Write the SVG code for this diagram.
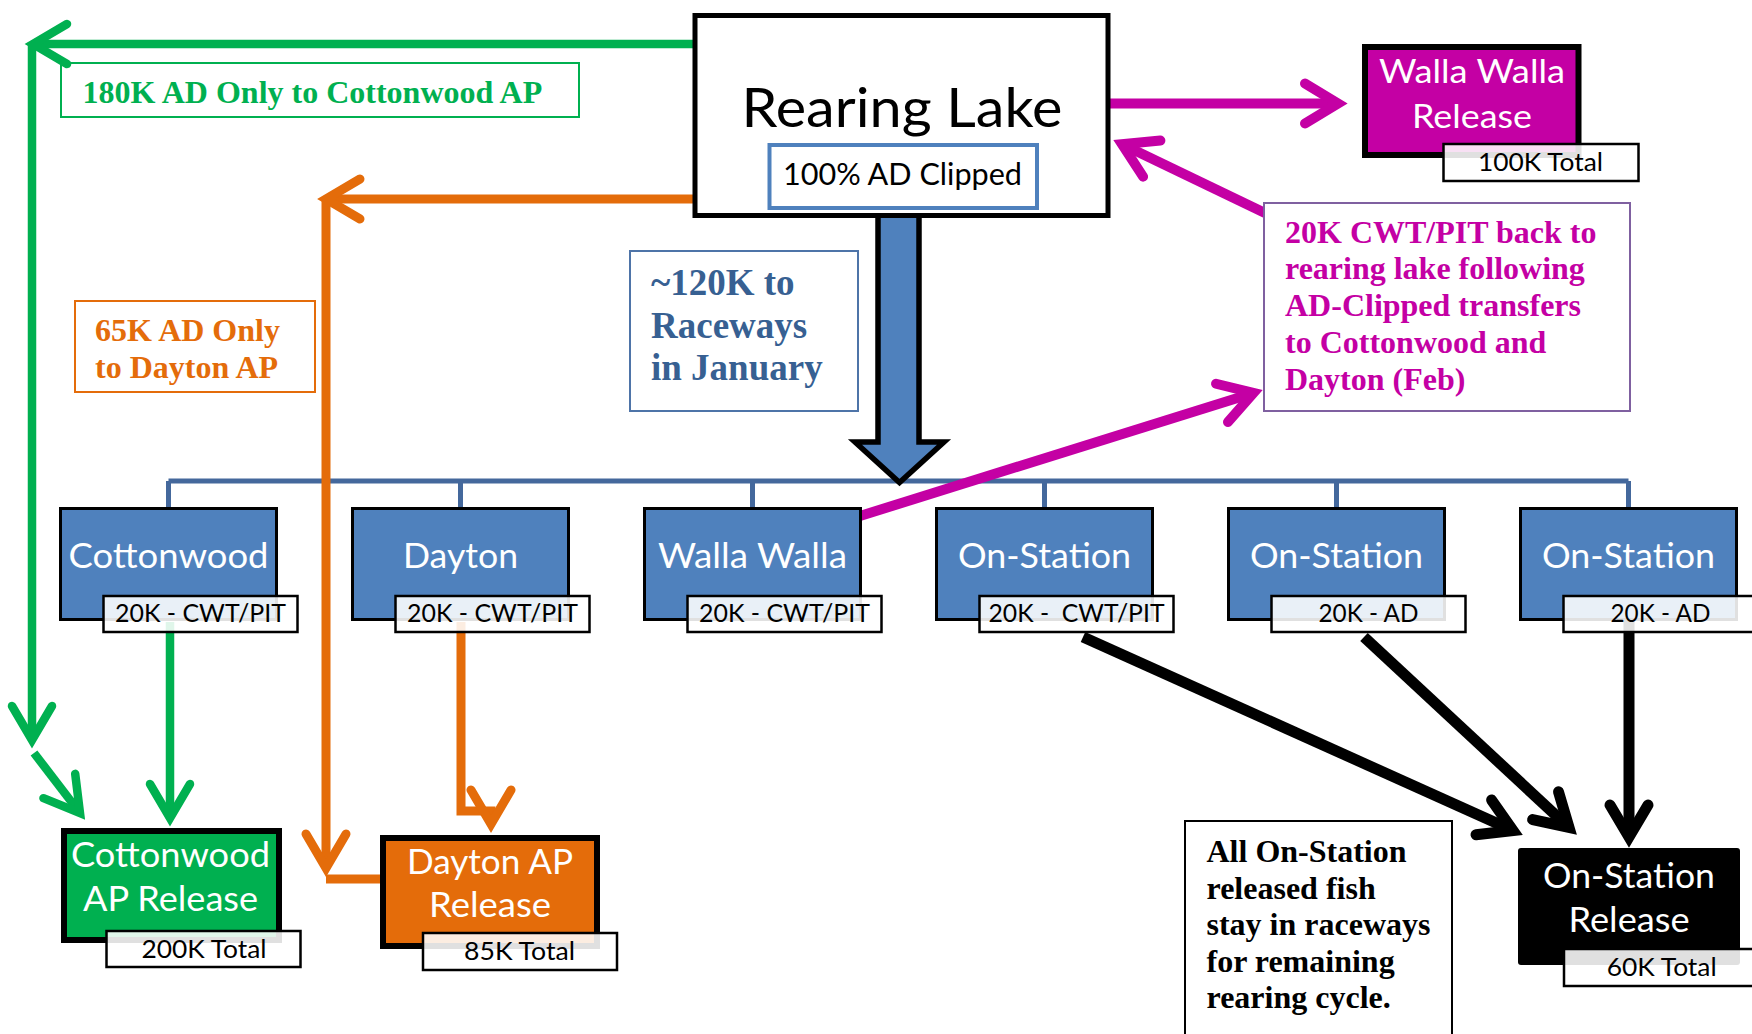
<svg xmlns="http://www.w3.org/2000/svg" width="1752" height="1034" viewBox="0 0 1752 1034">
<style>
.cal{font-family:Lato,"Open Sans","Liberation Sans",sans-serif;}
.ser{font-family:"Liberation Serif","Times New Roman",serif;font-weight:bold;font-size:32px;}
.wt{fill:#FFFFFF;}
.nm{font-size:35px;fill:#FFFFFF;text-anchor:middle;}
.lb{font-size:25px;fill:#000000;text-anchor:middle;}
.node{fill:#4F81BD;stroke:#000000;stroke-width:3;}
.lab{fill:#FFFFFF;fill-opacity:0.88;stroke:#000000;stroke-width:2.5;}
.bus{fill:none;stroke:#44689C;stroke-width:5;}
.cg{fill:none;stroke:#00B050;stroke-width:8.5;}
.co{fill:none;stroke:#E46C0A;stroke-width:9;}
.cm{fill:none;stroke:#C400A4;stroke-width:10;}
.ck{fill:none;stroke:#000000;stroke-width:11;}
</style>
<defs>
<marker id="ah-g" viewBox="-50 -30 60 60" refX="0" refY="0" markerWidth="60" markerHeight="60" markerUnits="userSpaceOnUse" orient="auto" overflow="visible"><path d="M-34,-20 L0,0 L-34,20" fill="none" stroke="#00B050" stroke-width="8.5" stroke-linecap="round"/></marker>
<marker id="ah-o" viewBox="-50 -30 60 60" refX="0" refY="0" markerWidth="60" markerHeight="60" markerUnits="userSpaceOnUse" orient="auto" overflow="visible"><path d="M-34,-20 L0,0 L-34,20" fill="none" stroke="#E46C0A" stroke-width="9" stroke-linecap="round"/></marker>
<marker id="ah-m" viewBox="-50 -30 60 60" refX="0" refY="0" markerWidth="60" markerHeight="60" markerUnits="userSpaceOnUse" orient="auto" overflow="visible"><path d="M-33,-20 L0,0 L-33,20" fill="none" stroke="#C400A4" stroke-width="10" stroke-linecap="round"/></marker>
<marker id="ah-k" viewBox="-50 -30 60 60" refX="0" refY="0" markerWidth="60" markerHeight="60" markerUnits="userSpaceOnUse" orient="auto" overflow="visible"><path d="M-32,-19 L0,0 L-32,19" fill="none" stroke="#000000" stroke-width="11" stroke-linecap="round"/></marker>
</defs>
<rect x="0" y="0" width="1752" height="1034" fill="#FFFFFF"/>

<g id="connectors">
  <path class="bus" d="M168.5,481 H1628.5 M168.5,481 V508 M460.5,481 V508 M752.5,481 V508 M1044.5,481 V508 M1336.5,481 V508 M1628.5,481 V508"/>
  <path id="block-arrow" d="M878,215 V442 H855 L899.5,482.5 L944,442 H919 V215 Z" fill="#4F81BD" stroke="#000000" stroke-width="5.5" stroke-linejoin="miter"/>
  <path class="cg" d="M693,44 H33" marker-end="url(#ah-g)"/>
  <path class="cg" d="M32,44 V740" marker-end="url(#ah-g)"/>
  <path class="cg" d="M34,753 L80,813" marker-end="url(#ah-g)"/>
  <path class="cg" d="M170,622 V818" marker-end="url(#ah-g)"/>
  <path class="co" d="M693,199 H326" marker-end="url(#ah-o)"/>
  <path class="co" d="M326,199 V868" marker-end="url(#ah-o)"/>
  <path class="co" d="M326,879 H382"/>
  <path class="co" d="M461,622 V811 H491 V824" marker-end="url(#ah-o)"/>
  <path class="cm" d="M1110,103.5 H1338" marker-end="url(#ah-m)"/>
  <path class="cm" d="M1265,213 L1122,144.3" marker-end="url(#ah-m)"/>
  <path class="cm" d="M860,516 L1253.5,393" marker-end="url(#ah-m)"/>
  <path class="ck" d="M1083,637 L1513,830.5" marker-end="url(#ah-k)"/>
  <path class="ck" d="M1364,637 L1569,827.5" marker-end="url(#ah-k)"/>
  <path class="ck" d="M1629,621 V837" marker-end="url(#ah-k)"/>
</g>

<g id="rearing-lake">
  <rect x="695" y="15.5" width="413" height="200" fill="#FFFFFF" stroke="#000000" stroke-width="5"/>
  <text class="cal" x="902" y="127" font-size="55" text-anchor="middle" textLength="321" lengthAdjust="spacingAndGlyphs">Rearing Lake</text>
  <rect x="769.5" y="145" width="267.5" height="63" fill="#FFFFFF" stroke="#4F81BD" stroke-width="4"/>
  <text class="cal" x="902.5" y="185" font-size="30" text-anchor="middle" textLength="239" lengthAdjust="spacingAndGlyphs">100% AD Clipped</text>
</g>

<g id="walla-walla-release">
  <rect x="1365" y="47" width="213.5" height="108" fill="#C400A4" stroke="#000000" stroke-width="6"/>
  <text class="cal wt" x="1472" y="83" font-size="33" text-anchor="middle" textLength="186" lengthAdjust="spacingAndGlyphs">Walla Walla</text>
  <text class="cal wt" x="1472" y="127.7" font-size="33" text-anchor="middle" textLength="120" lengthAdjust="spacingAndGlyphs">Release</text>
  <rect class="lab" x="1443.5" y="144" width="195" height="37"/>
  <text class="cal lb" x="1540.5" y="170.7" textLength="125" lengthAdjust="spacingAndGlyphs">100K Total</text>
</g>

<g id="note-cottonwood-transfer">
  <rect x="61" y="63" width="518" height="54" fill="none" stroke="#00B050" stroke-width="2"/>
  <text class="ser" x="82.6" y="103" fill="#00B050">180K AD Only to Cottonwood AP</text>
</g>

<g id="note-dayton-transfer">
  <rect x="75" y="301" width="240" height="91" fill="none" stroke="#E46C0A" stroke-width="2"/>
  <text class="ser" fill="#E46C0A"><tspan x="95" y="341">65K AD Only</tspan><tspan x="95" y="378">to Dayton AP</tspan></text>
</g>

<g id="note-raceways">
  <rect x="630" y="251" width="228" height="160" fill="none" stroke="#4E74A8" stroke-width="2"/>
  <text class="ser" font-size="37" fill="#376092" style="font-size:37px"><tspan x="651" y="295">~120K to</tspan><tspan x="651" y="338">Raceways</tspan><tspan x="651" y="380">in January</tspan></text>
</g>

<g id="note-cwt-back">
  <rect x="1264" y="203" width="366" height="208" fill="#FFFFFF" stroke="#7F60A0" stroke-width="2"/>
  <text class="ser" fill="#C400A4"><tspan x="1285" y="242.5">20K CWT/PIT back to</tspan><tspan x="1285" y="279.3">rearing lake following</tspan><tspan x="1285" y="316.2">AD-Clipped transfers</tspan><tspan x="1285" y="353">to Cottonwood and</tspan><tspan x="1285" y="389.8">Dayton (Feb)</tspan></text>
</g>

<g id="node-cottonwood">
  <rect class="node" x="60.5" y="508.5" width="216" height="111"/>
  <text class="cal nm" x="168.5" y="568" textLength="200" lengthAdjust="spacingAndGlyphs">Cottonwood</text>
  <rect class="lab" x="103.5" y="596" width="194" height="36"/>
  <text class="cal lb" x="200.5" y="621.5" textLength="171" lengthAdjust="spacingAndGlyphs">20K - CWT/PIT</text>
</g>
<g id="node-dayton">
  <rect class="node" x="352.5" y="508.5" width="216" height="111"/>
  <text class="cal nm" x="460.5" y="568" textLength="115" lengthAdjust="spacingAndGlyphs">Dayton</text>
  <rect class="lab" x="395.5" y="596" width="194" height="36"/>
  <text class="cal lb" x="492.5" y="621.5" textLength="171" lengthAdjust="spacingAndGlyphs">20K - CWT/PIT</text>
</g>
<g id="node-walla-walla">
  <rect class="node" x="644.5" y="508.5" width="216" height="111"/>
  <text class="cal nm" x="752.5" y="568" textLength="189" lengthAdjust="spacingAndGlyphs">Walla Walla</text>
  <rect class="lab" x="687.5" y="596" width="194" height="36"/>
  <text class="cal lb" x="784.5" y="621.5" textLength="171" lengthAdjust="spacingAndGlyphs">20K - CWT/PIT</text>
</g>
<g id="node-on-station-1">
  <rect class="node" x="936.5" y="508.5" width="216" height="111"/>
  <text class="cal nm" x="1044.5" y="568" textLength="173" lengthAdjust="spacingAndGlyphs">On-Station</text>
  <rect class="lab" x="979.5" y="596" width="194" height="36"/>
  <text class="cal lb" x="1076.5" y="621.5" textLength="176" lengthAdjust="spacingAndGlyphs" xml:space="preserve">20K -  CWT/PIT</text>
</g>
<g id="node-on-station-2">
  <rect class="node" x="1228.5" y="508.5" width="216" height="111"/>
  <text class="cal nm" x="1336.5" y="568" textLength="173" lengthAdjust="spacingAndGlyphs">On-Station</text>
  <rect class="lab" x="1271.5" y="596" width="194" height="36"/>
  <text class="cal lb" x="1368.5" y="621.5" textLength="100" lengthAdjust="spacingAndGlyphs">20K - AD</text>
</g>
<g id="node-on-station-3">
  <rect class="node" x="1520.5" y="508.5" width="216" height="111"/>
  <text class="cal nm" x="1628.5" y="568" textLength="173" lengthAdjust="spacingAndGlyphs">On-Station</text>
  <rect class="lab" x="1563.5" y="596" width="194" height="36"/>
  <text class="cal lb" x="1660.5" y="621.5" textLength="100" lengthAdjust="spacingAndGlyphs">20K - AD</text>
</g>

<g id="cottonwood-ap-release">
  <rect x="64" y="831" width="215" height="109" fill="#00B050" stroke="#000000" stroke-width="6"/>
  <text class="cal wt" x="170.5" y="867" font-size="34" text-anchor="middle" textLength="199" lengthAdjust="spacingAndGlyphs">Cottonwood</text>
  <text class="cal wt" x="170.5" y="911" font-size="34" text-anchor="middle" textLength="175" lengthAdjust="spacingAndGlyphs">AP Release</text>
  <rect class="lab" x="106.5" y="931" width="194" height="36"/>
  <text class="cal lb" x="204" y="958" textLength="125" lengthAdjust="spacingAndGlyphs">200K Total</text>
</g>

<g id="dayton-ap-release">
  <rect x="383" y="838" width="214" height="108" fill="#E46C0A" stroke="#000000" stroke-width="6"/>
  <text class="cal wt" x="490" y="873.5" font-size="34" text-anchor="middle" textLength="166" lengthAdjust="spacingAndGlyphs">Dayton AP</text>
  <text class="cal wt" x="490" y="917" font-size="34" text-anchor="middle" textLength="122" lengthAdjust="spacingAndGlyphs">Release</text>
  <rect class="lab" x="423" y="933" width="194" height="37"/>
  <text class="cal lb" x="519.5" y="960" textLength="111" lengthAdjust="spacingAndGlyphs">85K Total</text>
</g>

<g id="note-on-station">
  <rect x="1185" y="821" width="267" height="225" fill="#FFFFFF" stroke="#000000" stroke-width="2"/>
  <text class="ser" fill="#000000"><tspan x="1206.5" y="861.6">All On-Station</tspan><tspan x="1206.5" y="898.5">released fish</tspan><tspan x="1206.5" y="935.3">stay in raceways</tspan><tspan x="1206.5" y="972">for remaining</tspan><tspan x="1206.5" y="1008">rearing cycle.</tspan></text>
</g>

<g id="on-station-release">
  <rect x="1518" y="848" width="222" height="117" rx="3" fill="#000000"/>
  <text class="cal wt" x="1629" y="888" font-size="34" text-anchor="middle" textLength="172" lengthAdjust="spacingAndGlyphs">On-Station</text>
  <text class="cal wt" x="1629" y="931.7" font-size="34" text-anchor="middle" textLength="121" lengthAdjust="spacingAndGlyphs">Release</text>
  <rect class="lab" x="1564" y="949" width="200" height="37"/>
  <text class="cal lb" x="1661.7" y="975.5" textLength="110" lengthAdjust="spacingAndGlyphs">60K Total</text>
</g>
</svg>
